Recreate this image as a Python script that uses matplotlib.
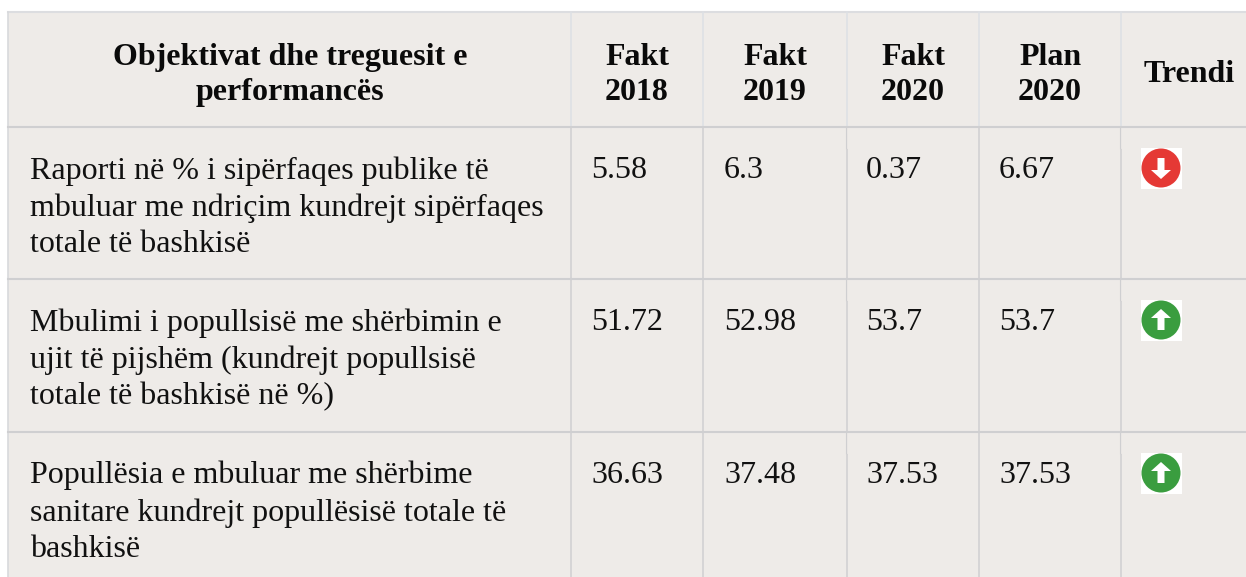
import matplotlib
matplotlib.use('Agg')
import matplotlib.pyplot as plt
from matplotlib.patches import Rectangle, Circle, Polygon

plt.rcParams['font.family'] = ['Liberation Serif', 'DejaVu Serif']

WIDTH = 1246
HEIGHT = 577

# table content
headers = ['Objektivat dhe treguesit e\nperformancës', 'Fakt\n2018', 'Fakt\n2019', 'Fakt\n2020', 'Plan\n2020', 'Trendi']
indicators = [
    'Raporti në % i sipërfaqes publike të\nmbuluar me ndriçim kundrejt sipërfaqes\ntotale të bashkisë',
    'Mbulimi i popullsisë me shërbimin e\nujit të pijshëm (kundrejt popullsisë\ntotale të bashkisë në %)',
    'Popullësia e mbuluar me shërbime\nsanitare kundrejt popullësisë totale të\nbashkisë',
]
fakt_2018 = ['5.58', '51.72', '36.63']
fakt_2019 = ['6.3', '52.98', '37.48']
fakt_2020 = ['0.37', '53.7', '37.53']
plan_2020 = ['6.67', '53.7', '37.53']
trend = ['down', 'up', 'up']

# layout in pixels
col_lines = [571, 703, 847, 979, 1121]
soft_cols = [847, 1121]
row_lines = [127, 279, 432]
row_tops = [127, 279, 432]
header_x = [290, 637, 775, 913, 1050, 1189]
header_y = [75, 75, 75, 75, 75, 74]
value_x = [591, 724, 866, 999]
BG = '#eeebe8'
LINE = '#cfcfd1'
LIGHT = '#dde0e5'
FS = 23

fig = plt.figure(figsize=(WIDTH / 100, HEIGHT / 100), dpi=100)
ax = fig.add_axes([0, 0, 1, 1])
ax.set_xlim(0, WIDTH)
ax.set_ylim(HEIGHT, 0)
ax.axis('off')

ax.add_patch(Rectangle((8, 12), WIDTH - 8, HEIGHT - 12, fc=BG, ec='none'))
ax.plot([8, WIDTH], [12, 12], color='#dcdde0', lw=1.5)
ax.plot([8, 8], [12, HEIGHT], color='#d8d9dc', lw=1.2)
for x in col_lines:
    ax.plot([x, x], [12, 127], color=LIGHT, lw=1.1)
    ax.plot([x, x], [127, HEIGHT], color=LINE, lw=1.1)
# first stretch of some column rules is thinner in each row
for x in soft_cols:
    for y in row_tops:
        ax.plot([x, x], [y, y + 21], color=BG, lw=1.3)
        ax.plot([x - 0.6, x - 0.6], [y, y + 21], color=LINE, lw=0.8)
for y in row_lines:
    ax.plot([8, WIDTH], [y, y], color=LINE, lw=1.5)

for x, y, label in zip(header_x, header_y, headers):
    ax.text(x, y, label, ha='center', va='center', fontsize=FS, fontweight='bold',
            color='#0a0a0a', linespacing=1.3)


def draw_trend(direction, x, y):
    color = '#e53935' if direction == 'down' else '#3a9d3f'
    ax.add_patch(Rectangle((x - 20.5, y - 20.5), 41, 41, fc='white', ec='none'))
    ax.add_patch(Circle((x, y), 19.5, fc=color, ec='none'))
    s = 1 if direction == 'down' else -1
    arrow = [(x - 3.5, y - 10 * s), (x + 3.5, y - 10 * s), (x + 3.5, y + 2 * s), (x + 10, y + 2 * s),
             (x, y + 11 * s), (x - 10, y + 2 * s), (x - 3.5, y + 2 * s)]
    ax.add_patch(Polygon(arrow, fc='white', ec='none'))


for i, top in enumerate(row_tops):
    ax.text(30, top + 29, indicators[i], ha='left', va='top', fontsize=FS,
            color='#111111', linespacing=1.34)
    row = [fakt_2018[i], fakt_2019[i], fakt_2020[i], plan_2020[i]]
    for x, value in zip(value_x, row):
        ax.text(x, top + 29, value, ha='left', va='top', fontsize=FS, color='#111111')
    draw_trend(trend[i], 1161, top + 41)

fig.savefig('out.png', dpi=100)
